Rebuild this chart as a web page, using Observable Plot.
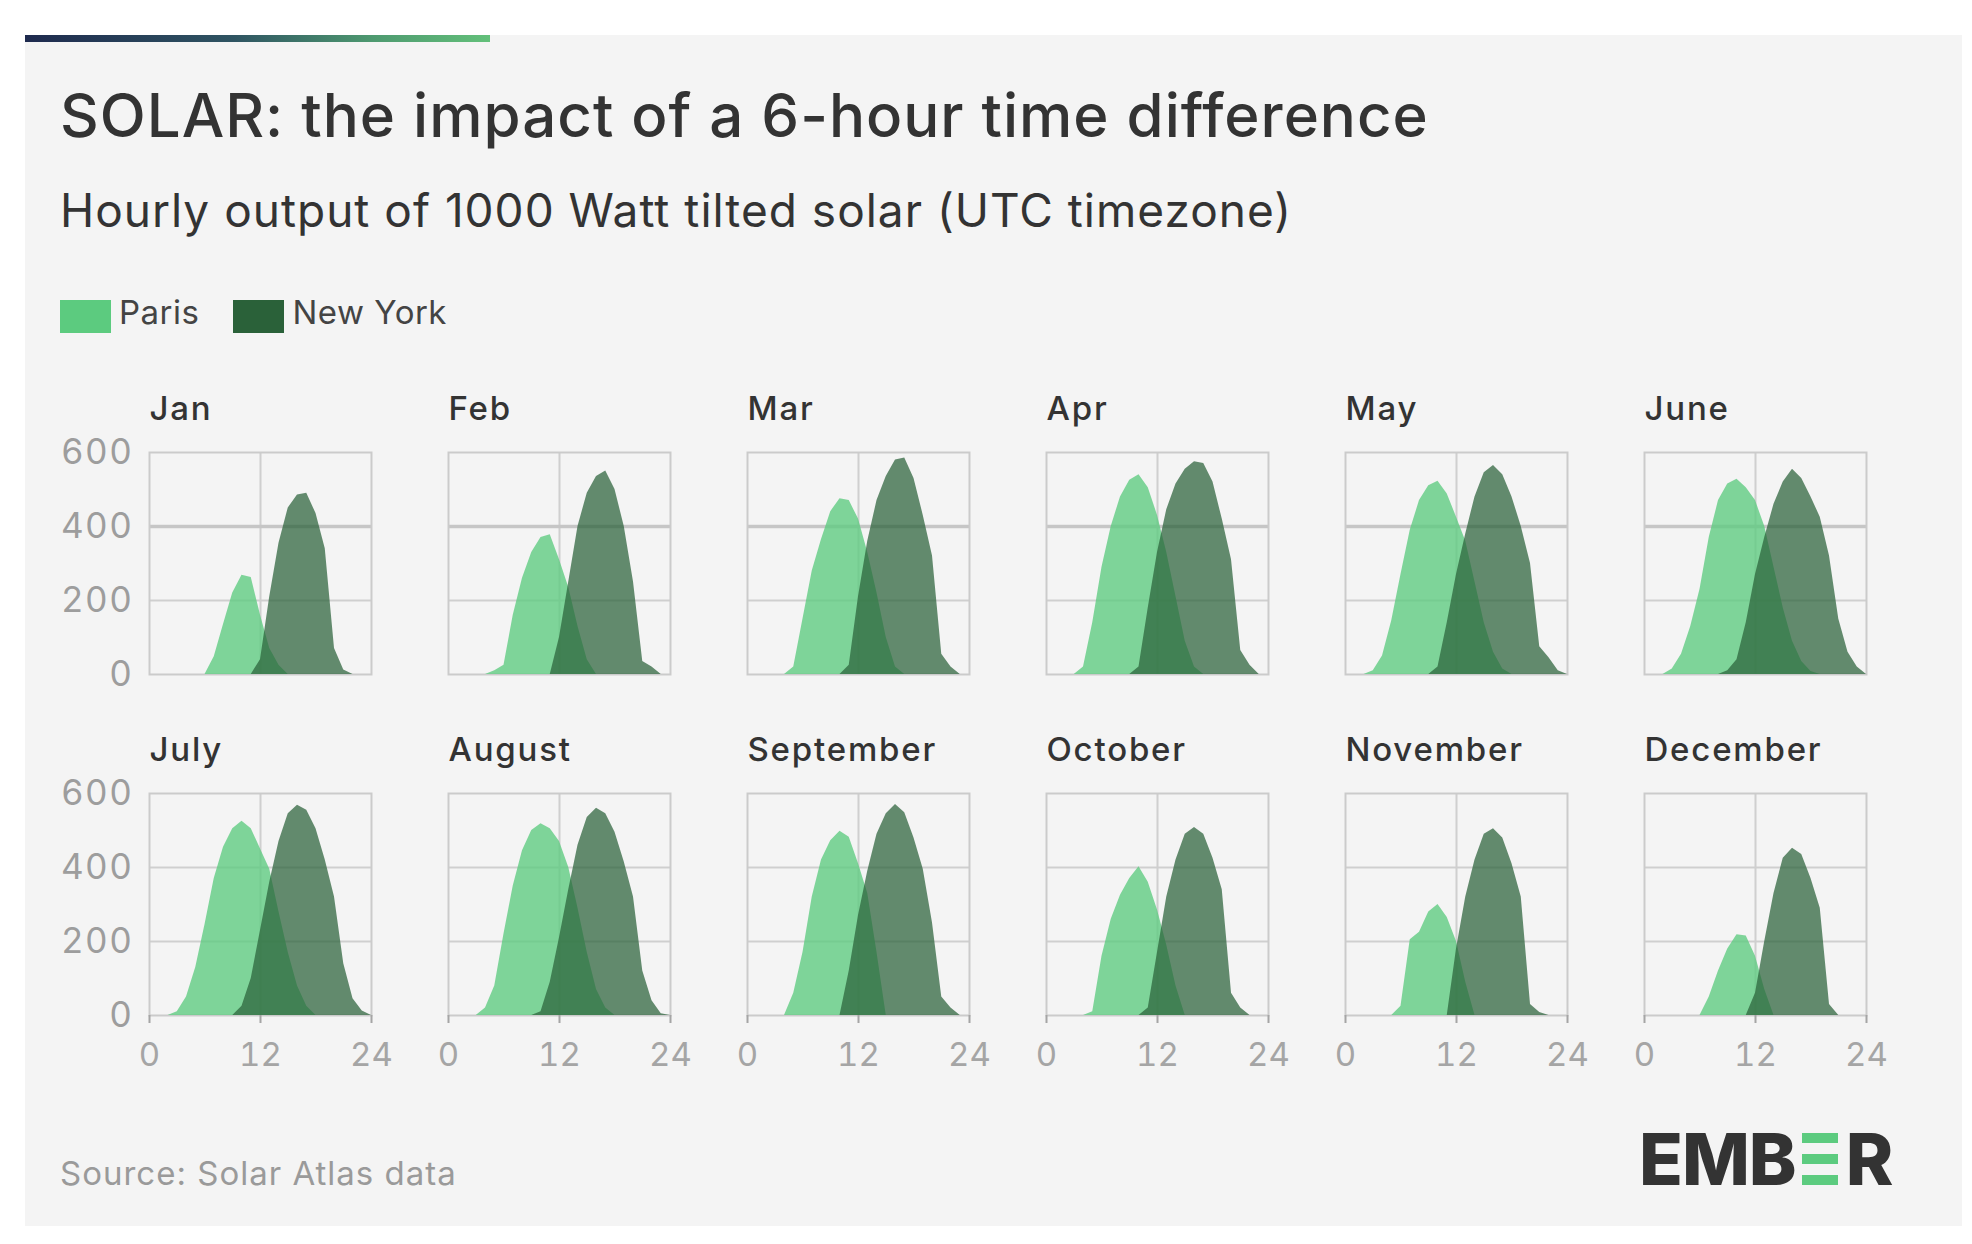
<!DOCTYPE html>
<html>
<head>
<meta charset="utf-8">
<script src="https://cdn.jsdelivr.net/npm/d3@7"></script>
<script src="https://cdn.jsdelivr.net/npm/@observablehq/plot@0.6"></script>
<style>
  html, body { margin: 0; padding: 0; background: #ffffff; }
  body { width: 1972px; height: 1244px; position: relative; overflow: hidden; font-family: Inter, "Noto Sans", sans-serif; }
  #panel { position: absolute; left: 25px; top: 35px; width: 1937px; height: 1191px; background: #f4f4f4; }
  #bar { position: absolute; left: 25px; top: 35px; width: 465px; height: 7px;
         background: linear-gradient(90deg, #1e2a4e 0%, #2f5462 45%, #4e9a70 75%, #63c07a 100%); }
  .t { position: absolute; white-space: nowrap; line-height: 1; }
  #title { left: 60px; top: 85px; font-size: 60px; font-weight: 500; color: #333333; letter-spacing: 1px; }
  #subtitle { left: 60px; top: 187px; font-size: 46px; font-weight: 400; color: #333333; letter-spacing: 1px; }
  #legend { position: absolute; left: 60px; top: 300px; display: flex; align-items: center; }
  .sw { width: 51px; height: 33px; display: inline-block; }
  .lt { font-size: 33px; color: #444444; margin-left: 8px; margin-right: 34px; line-height: 33px;
        letter-spacing: 0.5px; position: relative; top: -4px; }
  #source { left: 60px; top: 1157px; font-size: 33px; color: #9a9a9a; letter-spacing: 1px; }
  #logo { position: absolute; left: 1639px; top: 1123px; display: flex; align-items: flex-start;
          font-size: 72px; font-weight: 800; color: #333333; line-height: 1; letter-spacing: -1px; }
  #ebars { position: relative; width: 36px; height: 62px; margin: 0 8px 0 6px; }
  #ebars div { position: absolute; left: 0; width: 36px; height: 10px; background: #5ccb7f; }
  #chart { position: absolute; left: 0; top: 370px; }
  #chart g[aria-label="text"] { letter-spacing: 1.8px; }
  #chart g[aria-label="y-axis tick label"] { letter-spacing: 1.5px; }
</style>
</head>
<body>
<div id="panel"></div>
<div id="bar"></div>
<div class="t" id="title">SOLAR: the impact of a 6-hour time difference</div>
<div class="t" id="subtitle">Hourly output of 1000 Watt tilted solar (UTC timezone)</div>
<div id="legend"></div>
<div class="t" id="source">Source: Solar Atlas data</div>
<div id="logo"><span>EMB</span><div id="ebars"><div style="top:10px"></div><div style="top:31px"></div><div style="top:52px"></div></div><span>R</span></div>
<div id="chart"></div>
<script>
const months = ["Jan", "Feb", "Mar", "Apr", "May", "June", "July", "August", "September", "October", "November", "December"];
const cities = ["Paris", "New York"];
const cityColors = ["#5ccb7f", "#2a6139"];
const hours = [0, 1, 2, 3, 4, 5, 6, 7, 8, 9, 10, 11, 12, 13, 14, 15, 16, 17, 18, 19, 20, 21, 22, 23, 24];
const yTicks = [0, 200, 400, 600];
const xTicks = [0, 12, 24];

// Hourly output (W) for hours 0..24 UTC, one row per month
const paris = [
  [0,0,0,0,0,0,0,48,135,220,268,262,160,70,25,0,0,0,0,0,0,0,0,0,0],
  [0,0,0,0,0,10,25,160,260,330,370,378,310,235,130,40,0,0,0,0,0,0,0,0,0],
  [0,0,0,0,0,20,150,280,365,440,475,470,420,330,220,100,20,0,0,0,0,0,0,0,0],
  [0,0,0,0,20,140,290,400,480,525,540,505,430,330,210,90,20,0,0,0,0,0,0,0,0],
  [0,0,0,10,50,145,270,390,470,510,522,488,425,360,250,140,60,15,0,0,0,0,0,0,0],
  [0,0,0,15,55,130,230,370,470,515,528,505,470,400,290,180,90,35,8,0,0,0,0,0,0],
  [0,0,0,10,50,130,245,370,455,505,525,505,450,395,280,170,80,25,0,0,0,0,0,0,0],
  [0,0,0,0,20,80,220,350,445,500,518,505,470,400,290,170,70,20,0,0,0,0,0,0,0],
  [0,0,0,0,0,60,170,320,420,472,498,482,410,330,170,0,0,0,0,0,0,0,0,0,0],
  [0,0,0,0,0,10,160,260,325,370,402,360,285,190,80,0,0,0,0,0,0,0,0,0,0],
  [0,0,0,0,0,0,25,205,225,280,300,265,200,90,0,0,0,0,0,0,0,0,0,0,0],
  [0,0,0,0,0,0,0,50,120,180,218,215,160,70,0,0,0,0,0,0,0,0,0,0,0]
];
const newYork = [
  [0,0,0,0,0,0,0,0,0,0,0,0,40,210,355,450,485,490,435,340,70,12,0,0,0],
  [0,0,0,0,0,0,0,0,0,0,0,0,100,250,400,490,535,550,500,400,250,35,20,0,0],
  [0,0,0,0,0,0,0,0,0,0,0,25,210,360,470,535,580,585,530,430,320,55,20,0,0],
  [0,0,0,0,0,0,0,0,0,0,20,180,330,445,515,555,575,570,520,420,310,65,25,0,0],
  [0,0,0,0,0,0,0,0,0,0,20,140,270,380,480,545,565,540,480,400,300,75,45,10,0],
  [0,0,0,0,0,0,0,0,0,10,40,140,270,370,460,520,555,530,480,425,320,150,60,20,0],
  [0,0,0,0,0,0,0,0,0,0,25,100,230,360,470,545,568,555,505,420,320,140,45,12,0],
  [0,0,0,0,0,0,0,0,0,0,10,90,210,340,460,535,560,545,495,415,320,120,40,5,0],
  [0,0,0,0,0,0,0,0,0,0,0,120,270,390,490,545,570,548,480,395,250,50,20,0,0],
  [0,0,0,0,0,0,0,0,0,0,0,20,170,320,420,490,508,490,425,340,60,20,0,0,0],
  [0,0,0,0,0,0,0,0,0,0,0,0,180,320,420,490,505,480,410,320,30,8,0,0,0],
  [0,0,0,0,0,0,0,0,0,0,0,0,60,200,330,425,452,435,370,290,30,0,0,0,0]
];

// legend
const legend = document.getElementById("legend");
cities.forEach((c, i) => {
  const sw = document.createElement("span");
  sw.className = "sw"; sw.style.background = cityColors[i];
  const lt = document.createElement("span");
  lt.className = "lt"; lt.textContent = c;
  legend.append(sw, lt);
});

// long table
const facets = months.map((m, i) => ({month: m, col: i % 6, row: Math.floor(i / 6)}));
function table(series, city) {
  const out = [];
  series.forEach((vals, i) => vals.forEach((v, h) => out.push({
    city, hour: hours[h], value: v, col: facets[i].col, row: facets[i].row
  })));
  return out;
}
const parisRows = table(paris, cities[0]);
const nyRows = table(newYork, cities[1]);

const gridColor = "#cfcfcf";
const chart = Plot.plot({
  width: 1972,
  height: 725,
  marginLeft: 148,
  marginRight: 106,
  marginTop: 82,
  marginBottom: 80,
  style: {background: "transparent", fontFamily: "Inter, 'Noto Sans', sans-serif", overflow: "visible"},
  fx: {domain: [0, 1, 2, 3, 4, 5], paddingInner: 0.258, paddingOuter: 0, axis: null},
  fy: {domain: [0, 1], paddingInner: 0.349, paddingOuter: 0, axis: null},
  x: {domain: [0, 24]},
  y: {domain: [0, 600]},
  color: {domain: cities, range: cityColors},
  marks: [
    Plot.ruleY([200, 400], {stroke: gridColor, strokeWidth: 2}),
    Plot.ruleX([12], {stroke: gridColor, strokeWidth: 2}),
    Plot.ruleY(facets.filter(d => d.row === 0), {y: () => 400, fx: "col", fy: "row", stroke: "#c6c6c6", strokeWidth: 3.5}),
    Plot.frame({stroke: "#cbcbcb", strokeWidth: 2}),
    Plot.areaY(parisRows, {x: "hour", y: "value", fx: "col", fy: "row", fill: "city", fillOpacity: 0.78}),
    Plot.areaY(nyRows, {x: "hour", y: "value", fx: "col", fy: "row", fill: "city", fillOpacity: 0.72}),
    Plot.text(facets, {fx: "col", fy: "row", text: "month", frameAnchor: "top-left", lineAnchor: "bottom",
      dy: -33, fontSize: 33, fontWeight: 500, fill: "#333333"}),
    Plot.axisY(yTicks, {tickSize: 0, tickPadding: 16, fontSize: 35, color: "#9d9d9d", label: null}),
    Plot.axisX(xTicks, {tickSize: 8, tickPadding: 19, fontSize: 33, color: "#a5a5a5", strokeWidth: 2, label: null})
  ]
});
document.getElementById("chart").append(chart);
</script>
</body>
</html>
